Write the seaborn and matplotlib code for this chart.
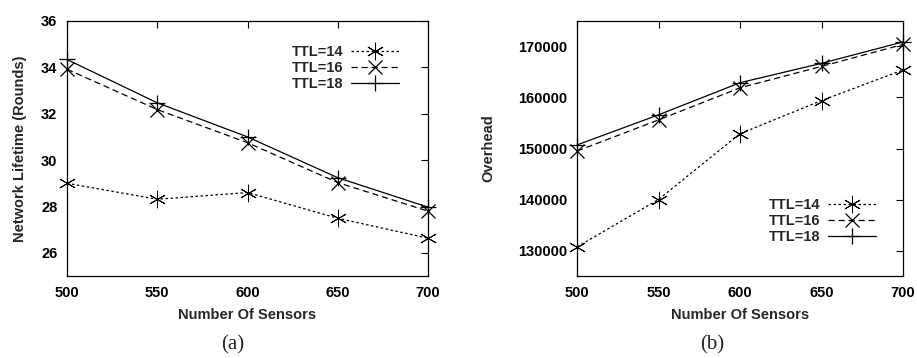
import matplotlib
matplotlib.use("Agg")
import matplotlib.pyplot as plt
import seaborn as sns
import pandas as pd

sns.set_theme(style="white")
plt.rcParams['font.family'] = ['Liberation Sans', 'DejaVu Sans']
plt.rcParams['font.weight'] = 'bold'

sensors = [500, 550, 600, 650, 700]
series_labels = ["TTL=14", "TTL=16", "TTL=18"]

lifetime_ttl14 = [29.0, 28.31, 28.6, 27.49, 26.63]
lifetime_ttl16 = [33.92, 32.18, 30.75, 29.03, 27.8]
lifetime_ttl18 = [34.34, 32.47, 31.0, 29.24, 27.97]

overhead_ttl14 = [130700, 140000, 152900, 159400, 165400]
overhead_ttl16 = [149500, 155600, 161900, 166100, 170400]
overhead_ttl18 = [150700, 156600, 162900, 166700, 170900]

styles = [
    dict(marker=(6, 2, 0), dashes=(2.0, 2.0), ms=12.5, mew=0.7),
    dict(marker='x', dashes=(5.0, 3.0), ms=9.5, mew=0.9),
    dict(marker='+', dashes=None, ms=11, mew=0.9),
]

fig = plt.figure(figsize=(9.17, 3.58), dpi=100)
axA = fig.add_axes([67/917, 1-276/358, 361/917, 255/358])
axB = fig.add_axes([577/917, 1-276/358, 326/917, 255/358])

def draw(ax, data_list):
    for lab, vals, st in zip(series_labels, data_list, styles):
        df = pd.DataFrame({"x": sensors, "y": vals})
        kw = dict(color='black', linewidth=0.9, marker=st['marker'],
                  markersize=st['ms'], markeredgewidth=st['mew'],
                  markeredgecolor='black', label=lab)
        sns.lineplot(data=df, x="x", y="y", ax=ax, **kw)
        l = ax.lines[-1]
        l.set_clip_on(False)
        if st['dashes'] is not None:
            l.set_dashes(st['dashes'])
    ax.set_xlim(500, 700)
    ax.set_xticks(sensors)
    ax.tick_params(direction='in', length=5, width=0.8, top=True, right=True,
                   labelsize=10.5, colors='black', pad=7)
    for t in ax.get_xticklabels() + ax.get_yticklabels():
        t.set_fontweight('bold')
    for sp in ax.spines.values():
        sp.set_color('black')
        sp.set_linewidth(0.9)
    ax.set_xlabel("Number Of Sensors", fontsize=10.5, fontweight='bold', labelpad=6)

draw(axA, [lifetime_ttl14, lifetime_ttl16, lifetime_ttl18])
axA.set_ylim(25, 36)
axA.set_yticks([26, 28, 30, 32, 34, 36])
axA.set_ylabel("Network Lifetime (Rounds)", fontsize=10.5, fontweight='bold', labelpad=10)

draw(axB, [overhead_ttl14, overhead_ttl16, overhead_ttl18])
axB.set_ylim(125000, 175000)
axB.set_yticks([130000, 140000, 150000, 160000, 170000])
axB.set_ylabel("Overhead", fontsize=10.5, fontweight='bold', labelpad=16)

for ax, anchor in [(axA, (0.935, 0.93)), (axB, (0.935, 0.33))]:
    leg = ax.legend(loc='upper right', bbox_to_anchor=anchor, frameon=False,
                    markerfirst=False, handlelength=3.3, handletextpad=0.5,
                    labelspacing=0.15, prop={'weight': 'bold', 'size': 10.5},
                    borderaxespad=0)

fig.text(233/917, 1-345/358, "(a)", ha='center', va='center', fontsize=15,
         family=['Liberation Serif'], fontweight='normal')
fig.text(712/917, 1-345/358, "(b)", ha='center', va='center', fontsize=15,
         family=['Liberation Serif'], fontweight='normal')

fig.savefig("out.png", dpi=100, facecolor='white')
